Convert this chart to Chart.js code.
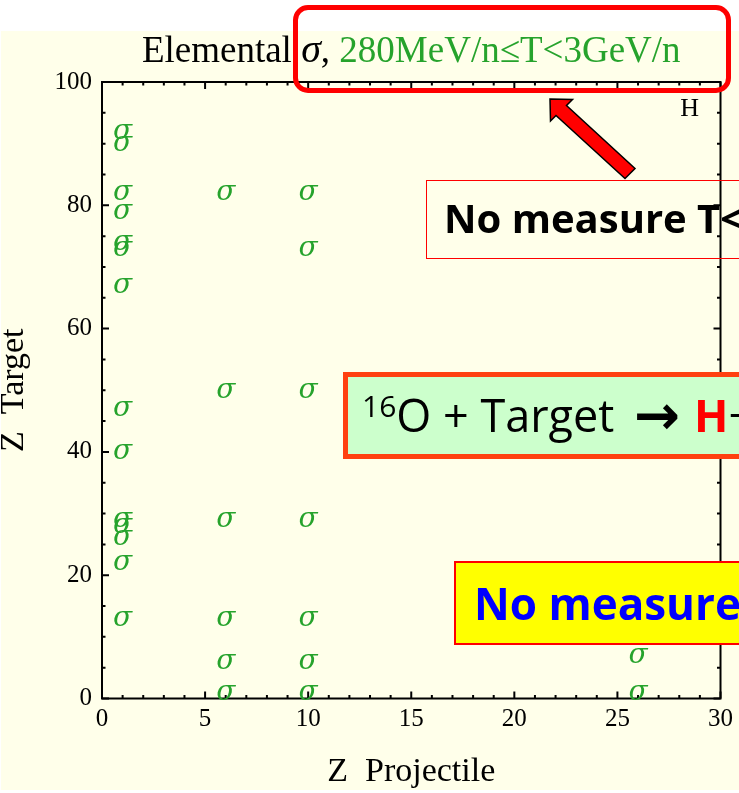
<!DOCTYPE html>
<html><head><meta charset="utf-8">
<script src="https://cdn.jsdelivr.net/npm/chart.js@4.4.1/dist/chart.umd.min.js"></script>
<style>
html,body{margin:0;padding:0;background:#fff;width:739px;height:793px;overflow:hidden;}
#wrap{position:relative;width:739px;height:793px;overflow:hidden;}
#holder{position:absolute;left:0;top:0;width:739px;height:793px;}
.ov{position:absolute;box-sizing:border-box;}
.txt{position:absolute;white-space:nowrap;font-family:"Open Sans",Lato,sans-serif;line-height:1;}
</style></head>
<body><div id="wrap">
<div id="holder"><canvas id="c"></canvas></div>
<div class="ov" style="left:293px;top:5px;width:438px;height:88px;border:5px solid #ff0000;border-radius:15px;"></div>
<svg style="position:absolute;left:0;top:0" width="739" height="793">
<polygon points="550,99 572.5,99.5 566.5,105.5 635,168.5 625,178.5 556,115.5 550.5,121" fill="#ff0000" stroke="#000" stroke-width="1.5" stroke-linejoin="miter"/>
</svg>
<div class="ov" style="left:426px;top:180px;width:340px;height:79px;border:1.5px solid #ff0000;"></div>
<span class="txt" style="left:444px;top:198px;font-size:40px;font-weight:bold;color:#000;">No measure T&lt;</span>
<div class="ov" style="left:343px;top:372px;width:420px;height:87px;border:5px solid #ff4010;background:#ccffcc;"></div>
<span class="txt" style="left:362px;top:392px;font-size:45px;color:#000;"><span style="font-size:30px;position:relative;top:-15px;">16</span>O + Target</span>
<span class="txt" style="left:634px;top:388px;font-size:55px;font-weight:bold;font-family:'DejaVu Sans';color:#000;">→</span>
<span class="txt" style="left:694px;top:392px;font-size:45px;color:#000;"><b style="color:#ff0000;">H</b>+</span>
<div class="ov" style="left:454px;top:561px;width:320px;height:84px;border:2px solid #ff0000;background:#ffff00;"></div>
<span class="txt" style="left:474px;top:581px;font-size:44px;font-weight:bold;color:#0000ff;">No measure</span>
</div>
<script>
// ---- data ----
const projectiles = [1, 6, 10, 26];
const targetsZ1  = [92, 90, 82, 79, 74, 73, 67, 47, 40, 29, 28, 26, 22, 13];
const targetsZ6  = [82, 50, 29, 13, 6, 1];
const targetsZ10 = [82, 73, 50, 29, 13, 6, 1];
const targetsZ26 = [7, 1];
const targetLists = [targetsZ1, targetsZ6, targetsZ10, targetsZ26];
const xTickLabels = [0, 5, 10, 15, 20, 25, 30];
const yTickLabels = [0, 20, 40, 60, 80, 100];
const titleText = ['Elemental ', 'σ', ', ', '280MeV/n≤T<3GeV/n'];
const xTitle = 'Z  Projectile';
const yTitle = 'Z  Target';
const markerGlyph = 'σ';
const cornerLabel = {text: 'H', x: 28.5, y: 95.6};

const GREEN = '#26a32c';
const SERIF = '"Liberation Serif","Times New Roman",serif';

const datasets = projectiles.map((p, i) => ({
  label: 'Z=' + p,
  data: targetLists[i].map(t => ({x: p, y: t})),
  pointRadius: 0, pointHoverRadius: 0, showLine: false
}));

const bgPlugin = {
  id: 'bg',
  beforeDraw(chart) {
    const c = chart.ctx; c.save();
    c.fillStyle = '#ffffea';
    c.fillRect(1, 31, chart.width - 1, 759);
    c.restore();
  }
};

const framePlugin = {
  id: 'frame',
  beforeDatasetsDraw(chart) {
    const {ctx, chartArea: a, scales: {x, y}} = chart;
    ctx.save();
    ctx.strokeStyle = '#000'; ctx.lineWidth = 2;
    ctx.strokeRect(a.left, a.top, a.right - a.left, a.bottom - a.top);
    ctx.beginPath();
    for (let v = x.min; v <= x.max; v += 1) {
      const px = x.getPixelForValue(v); const L = v % 5 === 0 ? 7 : 3.5;
      ctx.moveTo(px, a.bottom); ctx.lineTo(px, a.bottom - L);
      ctx.moveTo(px, a.top); ctx.lineTo(px, a.top + L);
    }
    for (let v = y.min; v <= y.max; v += 5) {
      const py = y.getPixelForValue(v); const L = v % 20 === 0 ? 7 : 3.5;
      ctx.moveTo(a.left, py); ctx.lineTo(a.left + L, py);
      ctx.moveTo(a.right, py); ctx.lineTo(a.right - L, py);
    }
    ctx.stroke();
    ctx.restore();
  }
};

const glyphPlugin = {
  id: 'glyphs',
  afterDatasetsDraw(chart) {
    const ctx = chart.ctx; ctx.save();
    const fs = 28;
    ctx.font = 'italic ' + fs + 'px "DejaVu Serif",' + SERIF;
    ctx.fillStyle = GREEN; ctx.textAlign = 'center'; ctx.textBaseline = 'alphabetic';
    chart.data.datasets.forEach((ds, i) => {
      chart.getDatasetMeta(i).data.forEach(el => {
        ctx.fillText(markerGlyph, el.x, el.y + fs * 0.26);
      });
    });
    const {x, y} = chart.scales;
    ctx.font = '26px ' + SERIF; ctx.fillStyle = '#000'; ctx.textBaseline = 'middle';
    ctx.fillText(cornerLabel.text, x.getPixelForValue(cornerLabel.x), y.getPixelForValue(cornerLabel.y));
    ctx.restore();
  }
};

const titlePlugin = {
  id: 'mtitle',
  afterDraw(chart) {
    const ctx = chart.ctx; const a = chart.chartArea; ctx.save();
    const fs = 37;
    const fonts = [fs + 'px ' + SERIF, 'italic ' + (fs + 3) + 'px ' + SERIF, fs + 'px ' + SERIF, fs + 'px ' + SERIF];
    const colors = ['#000', '#000', '#000', GREEN];
    let total = 0; const w = [];
    titleText.forEach((t, i) => { ctx.font = fonts[i]; w[i] = ctx.measureText(t).width; total += w[i]; });
    let xPos = (a.left + a.right) / 2 - total / 2;
    ctx.textBaseline = 'alphabetic'; ctx.textAlign = 'left';
    titleText.forEach((t, i) => { ctx.font = fonts[i]; ctx.fillStyle = colors[i]; ctx.fillText(t, xPos, 62); xPos += w[i]; });
    ctx.restore();
  }
};

new Chart(document.getElementById('c'), {
  type: 'scatter',
  data: {datasets},
  options: {
    responsive: true, maintainAspectRatio: false, animation: false,
    events: [],
    layout: {padding: {top: 82, right: 17, left: 0, bottom: 0}},
    plugins: {legend: {display: false}, tooltip: {enabled: false}, title: {display: false}},
    scales: {
      x: {
        type: 'linear', min: 0, max: 30,
        grid: {display: false, drawTicks: false}, border: {display: false},
        afterBuildTicks: s => { s.ticks = xTickLabels.map(v => ({value: v})); },
        afterFit: s => { s.height = 94.5; },
        ticks: {font: {family: SERIF, size: 25}, color: '#000', padding: 6, maxRotation: 0, autoSkip: false},
        title: {display: true, text: xTitle, color: '#000', font: {family: SERIF, size: 34}, padding: {top: 0, bottom: 1}}
      },
      y: {
        type: 'linear', min: 0, max: 100,
        grid: {display: false, drawTicks: false}, border: {display: false},
        afterBuildTicks: s => { s.ticks = yTickLabels.map(v => ({value: v})); },
        afterFit: s => { s.width = 102; },
        ticks: {font: {family: SERIF, size: 25}, color: '#000', padding: 10, autoSkip: false},
        title: {display: true, text: yTitle, color: '#000', font: {family: SERIF, size: 34, lineHeight: 0.82}, padding: {top: 0, bottom: 0}}
      }
    }
  },
  plugins: [bgPlugin, framePlugin, glyphPlugin, titlePlugin]
});
</script>
</body></html>
